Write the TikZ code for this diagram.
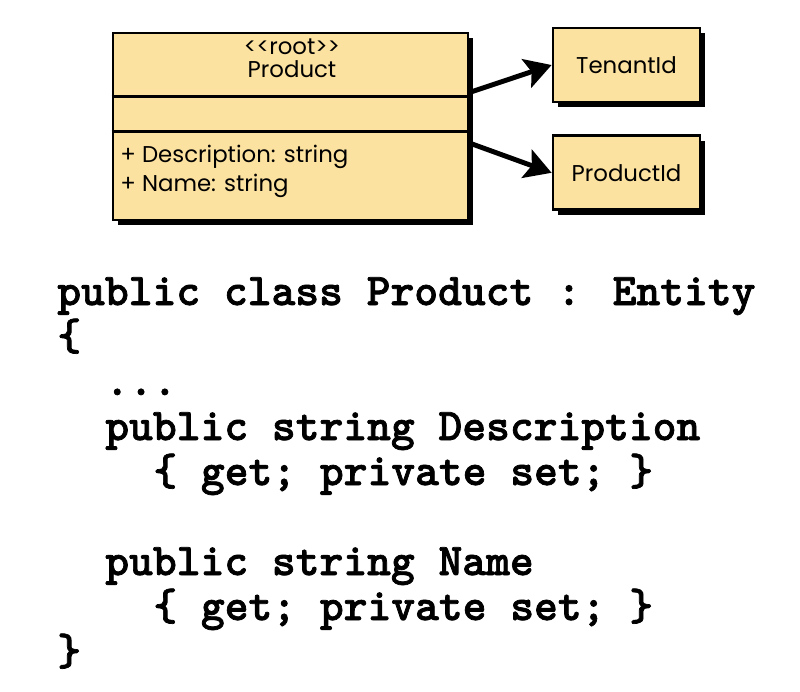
\documentclass[tikz,border=0pt]{standalone}
\usepackage{fontspec}
\usepackage{xcolor}
\usetikzlibrary{positioning,shadows,arrows.meta}
\setsansfont{Poppins}
\newfontfamily\codefont{lmmonolt10-bold.otf}[FakeBold=1.6]
\definecolor{umlfill}{RGB}{252,226,160}

\begin{document}
\begin{tikzpicture}[x=0.02cm, y=-0.02cm]
    \tikzstyle{umlbox} = [draw=black, line width=1.6pt, fill=umlfill, drop shadow={shadow xshift=0.1cm, shadow yshift=-0.1cm, fill=black, opacity=1}]
    \tikzstyle{umltext} = [font=\sffamily\fontsize{13}{15}\selectfont, inner sep=0pt]
    \tikzstyle{code} = [font=\codefont\fontsize{25.8}{30}\selectfont, anchor=base west, inner sep=0pt]
    \tikzstyle{link} = [line width=2.8pt, -{Stealth[length=15pt, width=17pt, inset=3pt]}]
    \useasboundingbox (0,0) rectangle (800,691);

    % class box
    \node [umlbox, minimum width=7.1cm, minimum height=3.74cm] (prod) at (290.5,126.5) {};
    \draw [line width=1.6pt] ([yshift=-1.3cm]prod.north west) -- ([yshift=-1.3cm]prod.north east);
    \draw [line width=1.6pt] ([yshift=-2.0cm]prod.north west) -- ([yshift=-2.0cm]prod.north east);
    \node [umltext] (stereo) at (292,47) {<\kern0pt<root>\kern0pt>};
    \node [umltext, below = 0.1cm of stereo] (pname) {Product};
    \node [umltext, anchor=west] (attr1) at (120,157) {+ Description: string};
    \node [umltext, anchor=west] (attr2) at (120,186) {+ Name: string};

    % value objects
    \node [umlbox, umltext, minimum width=2.94cm, minimum height=1.48cm] (tenant) at (626.5,65) {TenantId};
    \node [umlbox, umltext, minimum width=2.94cm, minimum height=1.48cm, below = 0.62cm of tenant] (pid) {ProductId};

    \draw [link] ([yshift=0.68cm]prod.east) -- (tenant.west);
    \draw [link] ([yshift=-0.33cm]prod.east) -- (pid.west);

    % code
    \node [code] (c1) at (57,305) {public class Product : Entity};
    \node [code] (c2) at (57,350) {\{};
    \node [code] (c3) at (105,395) {...};
    \node [code] (c4) at (105,440) {public string Description};
    \node [code] (c5) at (153,485) {\{ get; private set; \}};
    \node [code] (c6) at (105,575) {public string Name};
    \node [code] (c7) at (153,620) {\{ get; private set; \}};
    \node [code] (c8) at (57,665) {\}};
\end{tikzpicture}
\end{document}
